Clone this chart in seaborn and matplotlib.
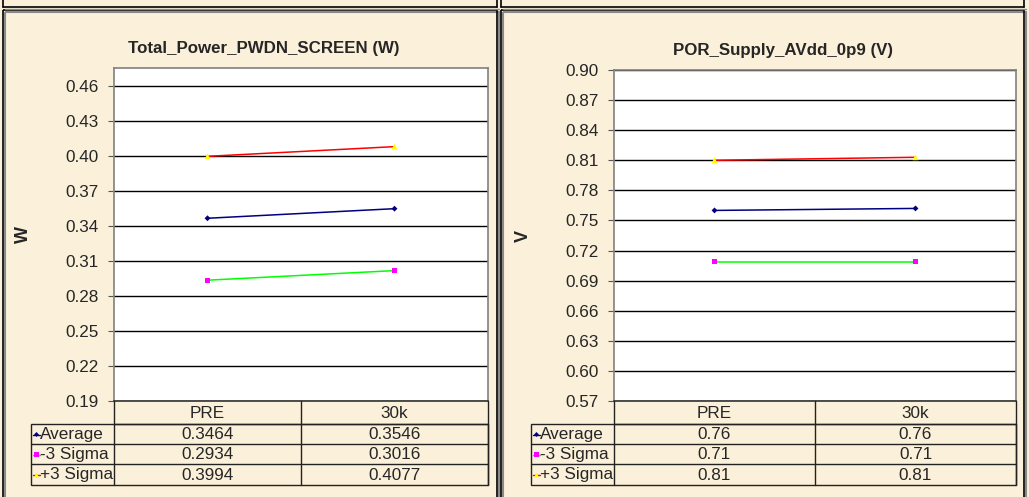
import pandas as pd
import matplotlib.pyplot as plt
import seaborn as sns
from matplotlib.patches import Rectangle

# Datos
stages = ["PRE", "30k"]
series_names = ["Average", "-3 Sigma", "+3 Sigma"]

power_avg = [0.3464, 0.3546]
power_lo = [0.2934, 0.3016]
power_hi = [0.3994, 0.4077]
power_ticks = [0.19, 0.22, 0.25, 0.28, 0.31, 0.34, 0.37, 0.40, 0.43, 0.46]

avdd_avg = [0.760, 0.762]
avdd_lo = [0.709, 0.709]
avdd_hi = [0.810, 0.813]
avdd_ticks = [0.57, 0.60, 0.63, 0.66, 0.69, 0.72, 0.75, 0.78, 0.81, 0.84, 0.87, 0.90]

line_colors = {"Average": "#000080", "-3 Sigma": "#00FF00", "+3 Sigma": "#FF0000"}
marker_colors = {"Average": "#000080", "-3 Sigma": "#FF00FF", "+3 Sigma": "#FFFF00"}
marker_styles = {"Average": "D", "-3 Sigma": "s", "+3 Sigma": "^"}
marker_sizes = {"Average": 9, "-3 Sigma": 14, "+3 Sigma": 18}

W, H = 1029, 497
BG = "#FBF0D9"
FS = 12.3

sns.set_style("white")
plt.rcParams['font.family'] = ['Liberation Sans', 'DejaVu Sans']

fig = plt.figure(figsize=(W / 100, H / 100), dpi=100)
fig.patch.set_facecolor(BG)

# Capa superior en coordenadas de pixel para marcos y tablas
fg = fig.add_axes([0, 0, 1, 1], zorder=10)
fg.set_xlim(0, W)
fg.set_ylim(H, 0)
fg.axis("off")
fg.patch.set_alpha(0)


def px_axes(x0, y0, x1, y1):
    return fig.add_axes([x0 / W, 1 - y1 / H, (x1 - x0) / W, (y1 - y0) / H])


def make_long(avg, lo, hi):
    rows = []
    for name, vals in zip(series_names, [avg, lo, hi]):
        for st, v in zip(stages, vals):
            rows.append({"stage": st, "series": name, "value": v})
    return pd.DataFrame(rows)


def draw_panel(box, plot, cols, title, title_xy, ylabel, ylabel_x,
               avg, lo, hi, ticks, ylim, fmt):
    # Marco del panel
    bx0, by0, bx1, by1 = box
    fg.add_patch(Rectangle((bx0 + 2, by0 + 2), bx1 - bx0, by1 - by0, fill=False,
                           edgecolor="#8a8a8a", lw=1.5))
    fg.add_patch(Rectangle((bx0, by0), bx1 - bx0, by1 - by0, fill=False,
                           edgecolor="black", lw=1.2))
    # Borde inferior del panel anterior (franja superior)
    fg.plot([bx0, bx1], [7, 7], color="black", lw=1.2)
    fg.plot([bx0 + 2, bx1 + 2], [8.5, 8.5], color="#8a8a8a", lw=1.0)
    fg.plot([bx0, bx0], [0, 7], color="black", lw=1.2)
    fg.plot([bx1, bx1], [0, 7], color="black", lw=1.2)

    x0, y0, x1, y1 = plot
    ax = px_axes(x0, y0, x1, y1)
    ax.set_facecolor("white")
    df = make_long(avg, lo, hi)

    sns.lineplot(data=df, x="stage", y="value", hue="series", palette=line_colors,
                 legend=False, sort=False, lw=1.1, ax=ax, zorder=3)
    for name in series_names:
        sub = df[df["series"] == name]
        sns.scatterplot(data=sub, x="stage", y="value", color=marker_colors[name],
                        marker=marker_styles[name], s=marker_sizes[name],
                        edgecolor="none", legend=False, ax=ax, zorder=4)

    ax.set_xlim(-0.5, 1.5)
    ax.set_ylim(*ylim)
    ax.set_yticks(ticks)
    ax.set_yticklabels([f"{t:.2f}" for t in ticks])
    ax.set_xticks([])
    ax.set_xlabel("")
    ax.grid(axis="y", color="black", lw=1.0)
    ax.set_axisbelow(True)
    ax.tick_params(axis="y", left=True, length=4.5, width=0.8, pad=6.5,
                   labelsize=FS, color="#555555")
    for s in ax.spines.values():
        s.set_color("#808080")
        s.set_linewidth(1.2)
    ax.spines["bottom"].set_color("#333333")
    ax.set_ylabel(ylabel, fontsize=13, fontweight="bold", rotation=90)
    ax.yaxis.set_label_coords((ylabel_x - x0) / (x1 - x0), 0.5)

    fg.text(title_xy[0], title_xy[1], title, ha="center", va="center",
            fontsize=12.2, fontweight="bold")

    # Tabla de datos
    c0, c1, c2, c3 = cols
    r = [401, 424, 444, 464, 485]
    lc = "#222222"
    fg.plot([c1, c3], [r[1], r[1]], color=lc, lw=1.0)
    fg.plot([c2, c2], [r[0], r[4]], color=lc, lw=1.0)
    fg.plot([c1, c1], [r[0], r[4]], color=lc, lw=1.0)
    fg.plot([c3, c3], [r[0], r[4]], color=lc, lw=1.0)
    fg.add_patch(Rectangle((c0, r[1]), c3 - c0, r[4] - r[1], fill=False,
                           edgecolor=lc, lw=1.0))
    for yy in r[2:4]:
        fg.plot([c0, c3], [yy, yy], color=lc, lw=1.0)
    for j, st in enumerate(stages):
        cx = [(c1 + c2) / 2, (c2 + c3) / 2][j]
        fg.text(cx, (r[0] + r[1]) / 2 + 1, st, ha="center", va="center", fontsize=FS)
    for i, (name, vals) in enumerate(zip(series_names, [avg, lo, hi])):
        cy = (r[i + 1] + r[i + 2]) / 2 + 0.5
        fg.plot([c0 + 2, c0 + 9], [cy, cy], color=line_colors[name], lw=1.0)
        fg.scatter([c0 + 5.5], [cy], marker=marker_styles[name],
                   color=marker_colors[name], s=marker_sizes[name] * 0.7,
                   edgecolor="none", zorder=5)
        fg.text(c0 + 9, cy, name, ha="left", va="center", fontsize=FS)
        for j, v in enumerate(vals):
            cx = [(c1 + c2) / 2, (c2 + c3) / 2][j]
            fg.text(cx, cy, fmt.format(v), ha="center", va="center", fontsize=FS)
    return ax


draw_panel((3, 10, 497, 505), (114, 68, 488, 401), (31, 114, 301, 488),
           "Total_Power_PWDN_SCREEN (W)", (264, 48), "W", 32,
           power_avg, power_lo, power_hi, power_ticks, (0.19, 0.475), "{:.4f}")

draw_panel((501, 10, 1024, 505), (614, 70, 1016, 401), (531, 614, 815, 1016),
           "POR_Supply_AVdd_0p9 (V)", (783, 50), "V", 532,
           avdd_avg, avdd_lo, avdd_hi, avdd_ticks, (0.57, 0.90), "{:.2f}")

plt.savefig("out.png", dpi=100, facecolor=BG)
plt.close()
